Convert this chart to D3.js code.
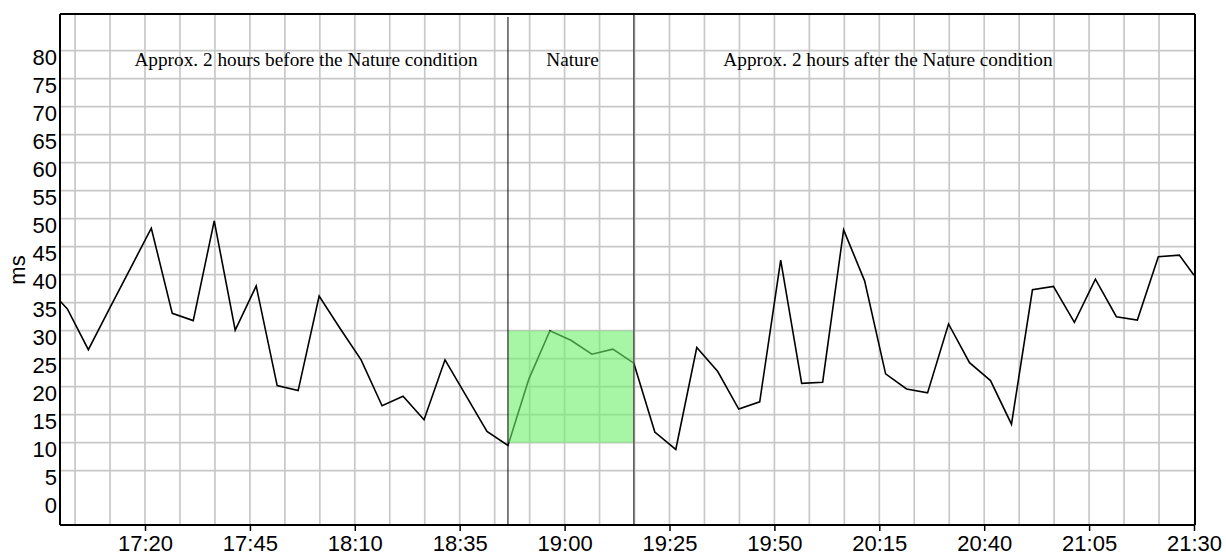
<!DOCTYPE html>
<html>
<head>
<meta charset="utf-8">
<script src="https://cdn.jsdelivr.net/npm/d3@7"></script>
<style>
html,body{margin:0;padding:0;background:#fff;}
svg{display:block;}
</style>
</head>
<body>
<svg id="chart" width="1226" height="556"></svg>
<script>
// ---- data ----
const startTime = "16:59:45";           // first sample (at left edge)
const firstRegular = "17:01:30";        // then every 5 minutes
const stepMinutes = 5;
const values = [
  35.3,
  33.9, 26.6, 33.9, 41.1, 48.3, 33.1, 31.8, 49.6, 30.1, 38.0,
  20.2, 19.3, 36.2, 30.4, 24.8, 16.6, 18.3, 14.1, 24.8, 18.4,
  12.0, 9.5, 21.4, 30.0, 28.3, 25.8, 26.7, 24.2, 11.9, 8.8,
  27.0, 22.7, 16.0, 17.3, 42.6, 20.6, 20.8, 48.0, 38.9, 22.3,
  19.6, 18.9, 31.2, 24.3, 21.1, 13.3, 37.3, 37.9, 31.5, 39.2,
  32.5, 31.9, 43.2, 43.5,
  39.9
];
const endTime = "21:30:00";
const xTickLabels = ["17:20","17:45","18:10","18:35","19:00","19:25","19:50","20:15","20:40","21:05","21:30"];
const yTickValues = [0,5,10,15,20,25,30,35,40,45,50,55,60,65,70,75,80];
const natureStart = "18:46:30";
const natureEnd = "19:16:30";
const natureBand = [10, 30];
const sectionLabels = ["Approx. 2 hours before the Nature condition", "Nature", "Approx. 2 hours after the Nature condition"];
const yTitle = "ms";

(function () {
// ---- helpers ----
const parseT = d3.timeParse("%H:%M:%S");
const parseHM = d3.timeParse("%H:%M");

// build series
const series = [];
series.push({t: parseT(startTime), v: values[0]});
const t0 = parseT(firstRegular);
for (let i = 1; i < values.length - 1; i++) {
  series.push({t: d3.timeMinute.offset(t0, (i - 1) * stepMinutes), v: values[i]});
}
series.push({t: parseT(endTime), v: values[values.length - 1]});

// ---- layout ----
const svg = d3.select("#chart");
const pL = 60, pR = 1195, pT = 14, pB = 525;

const x = d3.scaleTime()
  .domain([parseHM("17:20"), parseHM("21:30")])
  .range([145, 1194]);
const y = d3.scaleLinear().domain([0, 80]).range([498.7, 50.7]);

const g = svg.append("g");

// vertical gridlines every 25/3 minutes
const gridStep = 25 / 3;
const vGrid = [];
for (let m = -2; m <= 30; m++) {
  const t = new Date(parseHM("17:20").getTime() + m * gridStep * 60000);
  const px = x(t);
  if (px > pL + 2 && px < pR - 2) vGrid.push(t);
}
g.selectAll(".vgrid").data(vGrid).join("line")
  .attr("x1", d => x(d)).attr("x2", d => x(d))
  .attr("y1", pT).attr("y2", pB)
  .attr("stroke", "#c8c8c8").attr("stroke-width", 1.7);

// horizontal gridlines (5..80)
g.selectAll(".hgrid").data(yTickValues.filter(v => v > 0)).join("line")
  .attr("x1", pL).attr("x2", pR)
  .attr("y1", d => y(d)).attr("y2", d => y(d))
  .attr("stroke", "#c8c8c8").attr("stroke-width", 1.7);

// data line
const line = d3.line().x(d => x(d.t)).y(d => y(d.v));
g.append("path").datum(series)
  .attr("d", line)
  .attr("fill", "none").attr("stroke", "#000").attr("stroke-width", 1.6)
  .attr("stroke-linejoin", "miter");

// nature band (drawn over the line, semi-transparent)
const ns = parseT(natureStart), ne = parseT(natureEnd);
g.append("rect")
  .attr("x", x(ns)).attr("width", x(ne) - x(ns))
  .attr("y", y(natureBand[1])).attr("height", y(natureBand[0]) - y(natureBand[1]))
  .attr("fill", "rgb(107,240,107)").attr("fill-opacity", 0.6);

// nature boundary lines
g.append("line").attr("x1", x(ns)).attr("x2", x(ns)).attr("y1", pT + 3).attr("y2", pB)
  .attr("stroke", "#000").attr("stroke-width", 1);
g.append("line").attr("x1", x(ne)).attr("x2", x(ne)).attr("y1", pT).attr("y2", pB)
  .attr("stroke", "#555").attr("stroke-width", 1.5);

// frame
g.append("line").attr("x1", pL).attr("x2", pR).attr("y1", pT).attr("y2", pT)
  .attr("stroke", "#000").attr("stroke-width", 2);
g.append("line").attr("x1", pR).attr("x2", pR).attr("y1", pT).attr("y2", pB)
  .attr("stroke", "#000").attr("stroke-width", 2);

// x axis
const xAxis = d3.axisBottom(x)
  .tickValues(xTickLabels.map(s => parseHM(s)))
  .tickFormat(d3.timeFormat("%H:%M"))
  .tickSize(6).tickSizeOuter(0);
const xa = g.append("g").attr("transform", `translate(0,${pB})`).call(xAxis);
xa.select(".domain").attr("d", `M${pL},0H${pR}`).attr("stroke", "#000").attr("stroke-width", 2);
xa.selectAll(".tick line").attr("stroke", "#000").attr("stroke-width", 1.5);
xa.selectAll(".tick text")
  .attr("font-family", "'Liberation Sans', Arial, sans-serif")
  .attr("font-size", 22).attr("fill", "#000").attr("y", 10).attr("dy", "0.72em");

// y axis
const yAxis = d3.axisLeft(y).tickValues(yTickValues).tickSize(0).tickPadding(3);
const ya = g.append("g").attr("transform", `translate(${pL},0)`).call(yAxis);
ya.select(".domain").attr("d", `M0,${pT}V${pB}`).attr("stroke", "#000").attr("stroke-width", 2);
ya.selectAll(".tick text")
  .attr("font-family", "'Liberation Sans', Arial, sans-serif")
  .attr("font-size", 22).attr("fill", "#000").attr("dy", "0.62em");

// y title
svg.append("text")
  .attr("transform", "translate(25,270) rotate(-90)")
  .attr("text-anchor", "middle")
  .attr("font-family", "'Liberation Sans', Arial, sans-serif")
  .attr("font-size", 22).attr("fill", "#000")
  .text(yTitle);

// section labels
const labelX = [306, 572.5, 888];
svg.selectAll(".sec").data(sectionLabels).join("text")
  .attr("x", (d, i) => labelX[i]).attr("y", 66)
  .attr("text-anchor", "middle")
  .attr("font-family", "'Liberation Serif', 'Times New Roman', serif")
  .attr("font-size", 19.3).attr("fill", "#000")
  .text(d => d);
})();
</script>
</body>
</html>
